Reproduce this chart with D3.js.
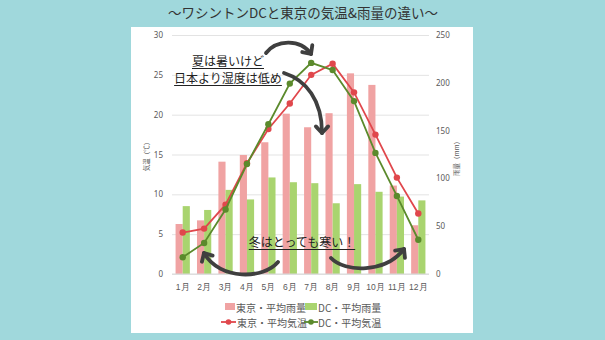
<!DOCTYPE html>
<html><head><meta charset="utf-8">
<script src="https://cdn.jsdelivr.net/npm/d3@7"></script>
<style>
html,body{margin:0;padding:0;background:#a0d8dc;}
svg{display:block;font-family:"Noto Sans CJK JP","Noto Sans",sans-serif;}
</style></head>
<body>
<svg id="c" width="605" height="340"></svg>
<script>
const months = ["1月","2月","3月","4月","5月","6月","7月","8月","9月","10月","11月","12月"];
const tokyoRain = [52.3,56.1,117.5,124.5,137.8,167.7,153.5,168.2,209.9,197.8,92.5,51.0];
const dcRain = [71,67,88,78,101,96,95,74,94,86,81,77];
const tokyoTemp = [5.2,5.7,8.7,13.9,18.2,21.4,25.0,26.4,22.8,17.5,12.1,7.6];
const dcTemp = [2.1,3.9,8.1,13.8,18.8,23.9,26.5,25.6,21.7,15.2,9.8,4.3];
const tempTicks = [0,5,10,15,20,25,30];
const rainTicks = [0,50,100,150,200,250];
const seriesNames = ["東京・平均雨量","DC・平均雨量","東京・平均気温","DC・平均気温"];
const title = "～ワシントンDCと東京の気温&雨量の違い～";

const C = {pink:"#f0a3a3", lgreen:"#a9d46f", red:"#e0474c", dgreen:"#5b8a2c", grid:"#e3e3e3", txt:"#595959", arrow:"#3f3f3f"};

const svg = d3.select("#c");
svg.append("rect").attr("x",0).attr("y",0).attr("width",605).attr("height",340).attr("fill","#a0d8dc");
svg.append("text").attr("x",303).attr("y",18).attr("text-anchor","middle")
  .attr("font-size",13.5).attr("fill","#333").text(title);
svg.append("rect").attr("x",131).attr("y",27).attr("width",342).attr("height",306).attr("fill","#fff");

const x = d3.scaleBand().domain(months).range([172,429]).padding(0);
const yL = d3.scaleLinear().domain([0,30]).range([274,35]);
const yR = d3.scaleLinear().domain([0,250]).range([274,35]);

// gridlines + left axis
const axL = d3.axisLeft(yL).tickValues(tempTicks).tickSize(-(429-172)).tickPadding(9);
const gL = svg.append("g").attr("transform","translate(172,0)").call(axL);
gL.select(".domain").remove();
gL.selectAll("line").attr("stroke",C.grid).attr("stroke-width",1);
gL.selectAll("text").attr("font-size",8).attr("fill",C.txt).attr("font-family","Noto Sans, sans-serif");

const axR = d3.axisRight(yR).tickValues(rainTicks).tickSize(0).tickPadding(7);
const gR = svg.append("g").attr("transform","translate(429,0)").call(axR);
gR.select(".domain").remove();
gR.selectAll("text").attr("font-size",8).attr("fill",C.txt).attr("font-family","Noto Sans, sans-serif");

// bars
const bw = x.bandwidth()/3;
svg.append("g").selectAll("rect").data(tokyoRain).join("rect")
  .attr("x",(d,i)=>x(months[i])+x.bandwidth()/2-bw).attr("width",bw)
  .attr("y",d=>yR(d)).attr("height",d=>yR(0)-yR(d)).attr("fill",C.pink);
svg.append("g").selectAll("rect").data(dcRain).join("rect")
  .attr("x",(d,i)=>x(months[i])+x.bandwidth()/2).attr("width",bw)
  .attr("y",d=>yR(d)).attr("height",d=>yR(0)-yR(d)).attr("fill",C.lgreen);

// baseline
svg.append("line").attr("x1",172).attr("x2",429).attr("y1",yL(0)).attr("y2",yL(0)).attr("stroke","#d9d9d9");

// x axis labels
const axB = d3.axisBottom(x).tickSize(0).tickPadding(10);
const gB = svg.append("g").attr("transform",`translate(0,${yL(0)})`).call(axB);
gB.select(".domain").remove();
gB.selectAll("text").attr("font-size",8.5).attr("fill",C.txt);

// lines
function drawLine(vals,color){
  const line = d3.line().x((d,i)=>x(months[i])+x.bandwidth()/2).y(d=>yL(d));
  svg.append("path").datum(vals).attr("d",line).attr("fill","none").attr("stroke",color).attr("stroke-width",1.8);
  svg.append("g").selectAll("circle").data(vals).join("circle")
    .attr("cx",(d,i)=>x(months[i])+x.bandwidth()/2).attr("cy",d=>yL(d)).attr("r",3.2).attr("fill",color);
}
drawLine(tokyoTemp,C.red);
drawLine(dcTemp,C.dgreen);

// axis titles
svg.append("text").attr("transform","translate(149,155) rotate(-90)").attr("text-anchor","middle")
  .attr("font-size",6.5).attr("fill",C.txt).text("気温（℃）");
svg.append("text").attr("transform","translate(459,157) rotate(-90)").attr("text-anchor","middle")
  .attr("font-size",6.5).attr("fill",C.txt).text("雨量（mm）");

// legend
const lg = svg.append("g").attr("font-size",10).attr("fill",C.txt);
function legText(tx,ty,s){ lg.append("text").attr("x",tx).attr("y",ty).attr("dominant-baseline","central").attr("fill",C.txt).text(s); }
lg.append("rect").attr("x",225).attr("y",303).attr("width",10).attr("height",7).attr("fill",C.pink);
legText(236,307,seriesNames[0]);
lg.append("rect").attr("x",305).attr("y",303).attr("width",12).attr("height",7).attr("fill",C.lgreen);
legText(318,307,seriesNames[1]);
lg.append("line").attr("x1",221).attr("x2",236).attr("y1",322).attr("y2",322).attr("stroke",C.red).attr("stroke-width",1.8);
lg.append("circle").attr("cx",228.5).attr("cy",322).attr("r",2.8).attr("fill",C.red);
legText(237,322,seriesNames[2]);
lg.append("line").attr("x1",304).attr("x2",318).attr("y1",322).attr("y2",322).attr("stroke",C.dgreen).attr("stroke-width",1.8);
lg.append("circle").attr("cx",311).attr("cy",322).attr("r",2.8).attr("fill",C.dgreen);
legText(318,322,seriesNames[3]);

// annotations
function note(cx,cy,s,fs){
  const t = svg.append("text").attr("x",cx).attr("y",cy).attr("text-anchor","middle")
    .attr("font-size",fs).attr("font-weight",400).attr("fill","#222").text(s);
  const w = t.node().getComputedTextLength();
  svg.append("line").attr("x1",cx-w/2).attr("x2",cx+w/2).attr("y1",cy+2.5).attr("y2",cy+2.5)
    .attr("stroke","#222").attr("stroke-width",1);
}
note(228,66,"夏は暑いけど",12);
note(228,83,"日本より湿度は低め",12);
note(302,247,"冬はとっても寒い！",12);

function arrow(p0,p1,p2,p3){
  const p = d3.path(); p.moveTo(...p0); p.bezierCurveTo(...p1,...p2,...p3);
  svg.append("path").attr("d",p.toString()).attr("fill","none").attr("stroke",C.arrow)
    .attr("stroke-width",3.8).attr("stroke-linecap","round");
  const a = Math.atan2(p3[1]-p2[1],p3[0]-p2[0]);
  const L = 9, sp = 0.75;
  const h = d3.path();
  h.moveTo(p3[0]-L*Math.cos(a-sp), p3[1]-L*Math.sin(a-sp));
  h.lineTo(p3[0],p3[1]);
  h.lineTo(p3[0]-L*Math.cos(a+sp), p3[1]-L*Math.sin(a+sp));
  svg.append("path").attr("d",h.toString()).attr("fill","none").attr("stroke",C.arrow)
    .attr("stroke-width",3.8).attr("stroke-linecap","round").attr("stroke-linejoin","round");
}
arrow([266,53],[276,40],[300,38],[311,54]);
arrow([284,73],[306,80],[322,100],[322,133]);
arrow([278,262],[264,279],[220,281],[204,253]);
arrow([331,258],[345,273],[386,273],[404,249]);
</script>
</body></html>
